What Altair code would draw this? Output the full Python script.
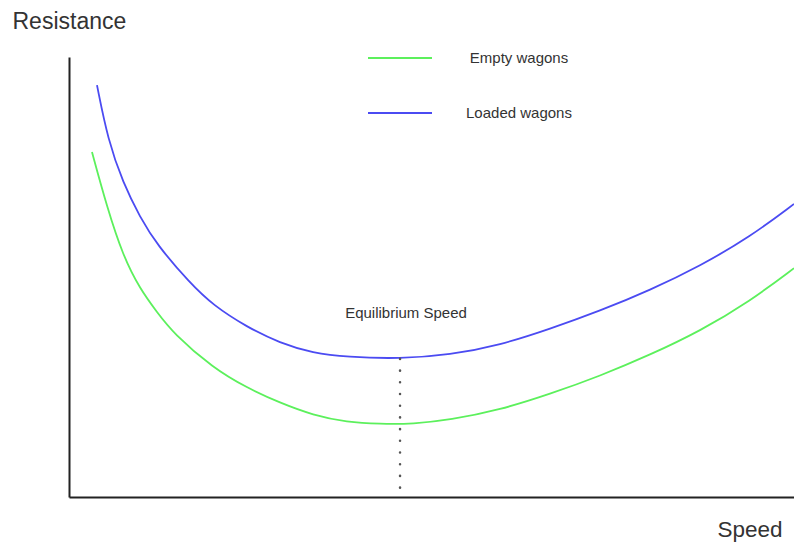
import altair as alt
import pandas as pd

# Curve readings (speed 0-100, resistance 0-100, arbitrary units)
loaded_speed = [3.86, 5.38, 7.45, 9.79, 12.14, 16.69, 19.86, 24.55, 29.10, 33.66, 38.34, 45.66,
                52.55, 59.45, 66.34, 73.24, 80.14, 87.03, 93.93, 100.0]
loaded_res = [93.6, 81.1, 71.4, 63.6, 57.3, 48.6, 43.6, 38.6, 35.0, 32.7, 31.8, 31.4,
              32.3, 34.5, 38.2, 42.3, 47.0, 52.5, 59.1, 66.6]

empty_speed = [3.17, 5.24, 7.45, 9.79, 12.14, 14.34, 19.86, 24.55, 29.10, 33.66, 38.34, 42.90, 47.45,
               52.55, 59.45, 66.34, 73.24, 80.14, 87.03, 93.93, 100.0]
empty_res = [78.4, 65.9, 54.8, 47.3, 42.0, 37.3, 29.3, 24.8, 21.4, 18.6, 17.0, 16.6, 16.6,
             17.5, 19.8, 23.4, 27.5, 32.3, 37.7, 44.5, 52.0]

series_names = ["Empty wagons", "Loaded wagons"]
series_colors = ["#5cf05c", "#4b4bf2"]

eq_speed = [45.66]
eq_top = [31.4]
eq_bottom = [1.8]
eq_label = ["Equilibrium Speed"]
eq_label_res = [41.8]

FONT = "Liberation Sans"
TEXT = "#333333"

curves = pd.concat([
    pd.DataFrame({"speed": empty_speed, "res": empty_res, "series": series_names[0], "order": range(len(empty_speed))}),
    pd.DataFrame({"speed": loaded_speed, "res": loaded_res, "series": series_names[1], "order": range(len(loaded_speed))}),
])

xscale = alt.Scale(domain=[0, 100], nice=False, zero=False)
yscale = alt.Scale(domain=[0, 100], nice=False, zero=False)

xaxis = alt.Axis(
    title="Speed", ticks=False, labels=False, grid=False,
    domainColor="#222222", domainWidth=2,
    titleFont=FONT, titleFontSize=22.5, titleFontWeight="normal", titleColor=TEXT,
    titleAlign="left", titleBaseline="alphabetic", titleX=648, titleY=39,
)
yaxis = alt.Axis(
    title="Resistance", ticks=False, labels=False, grid=False,
    domainColor="#222222", domainWidth=2,
    titleFont=FONT, titleFontSize=23, titleFontWeight="normal", titleColor=TEXT,
    titleAngle=0, titleAlign="left", titleBaseline="alphabetic", titleX=-57, titleY=-29,
)

lines = alt.Chart(curves).mark_line(interpolate="basis", strokeWidth=1.8, clip=True).encode(
    x=alt.X("speed:Q", scale=xscale, axis=xaxis),
    y=alt.Y("res:Q", scale=yscale, axis=yaxis),
    color=alt.Color(
        "series:N",
        scale=alt.Scale(domain=series_names, range=series_colors),
        legend=alt.Legend(
            title=None, orient="none", legendX=298, legendY=-32, padding=0,
            symbolType="stroke", symbolSize=4096, symbolStrokeWidth=2,
            rowPadding=14, labelFont=FONT, labelFontSize=15, labelColor=TEXT,
            labelAlign="center", labelOffset=86, labelLimit=300,
        ),
    ),
    order="order:Q",
)

eq_df = pd.DataFrame({"speed": eq_speed, "top": eq_top, "bottom": eq_bottom,
                      "label": eq_label, "label_res": eq_label_res})

rule = alt.Chart(eq_df).mark_rule(
    color="#555555", strokeWidth=2.5, strokeDash=[0.1, 11.6], strokeCap="round"
).encode(
    x=alt.X("speed:Q", scale=xscale),
    y=alt.Y("top:Q", scale=yscale),
    y2="bottom:Q",
)

label = alt.Chart(eq_df).mark_text(
    font=FONT, fontSize=15, color=TEXT, align="center", baseline="middle", dx=6
).encode(
    x=alt.X("speed:Q", scale=xscale),
    y=alt.Y("label_res:Q", scale=yscale),
    text="label:N",
)

chart = alt.layer(lines, rule, label).properties(
    width=725, height=440,
    autosize=alt.AutoSizeParams(type="none"),
    padding={"left": 61, "top": 49, "right": 0, "bottom": 45},
    background="white",
).configure_view(stroke=None)

chart.save("out.html", embed_options={"renderer": "svg", "actions": False})
